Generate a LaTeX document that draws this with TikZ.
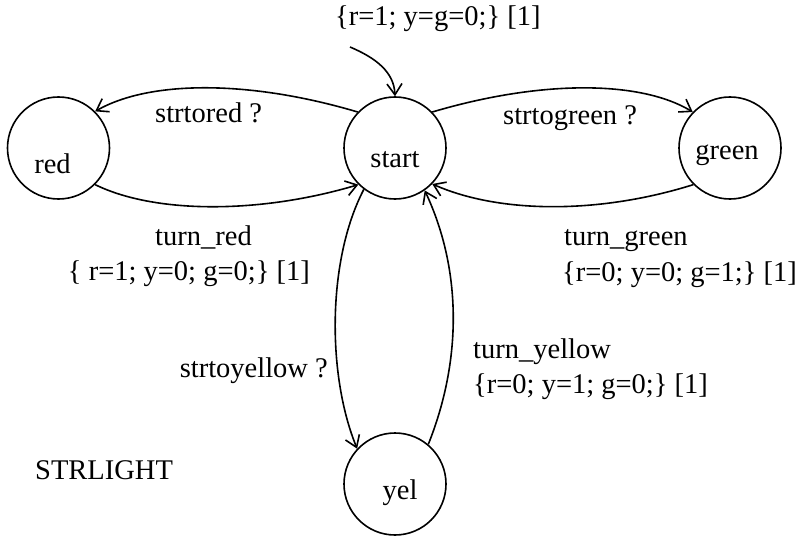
\documentclass[tikz,border=0pt]{standalone}
\usepackage{fontspec}
\setmainfont{Liberation Serif}
\usetikzlibrary{arrows.meta}
\begin{document}
\begin{tikzpicture}[x=1pt,y=-1pt,
  every node/.style={font=\fontsize{28.5}{34}\selectfont},
  state/.style={draw,circle,line width=1.6pt,minimum size=102pt,inner sep=0pt},
  stxt/.style={inner sep=0pt,anchor=base},
  edge/.style={line width=1.6pt,-{Straight Barb[length=11pt,width=15pt,line width=1.6pt]}},
  lbl/.style={inner sep=0pt}]
\useasboundingbox (0,0) rectangle (799,540);
\node[state,label={[stxt,yshift=-12pt]center:start}] (start) at (395,148) {};
\node[state,label={[stxt,xshift=-6pt,yshift=-16pt]center:red}] (red) at (58.5,148) {};
\node[state,label={[stxt,xshift=-3pt,yshift=-7pt]center:green}] (green) at (730,148) {};
\node[state,label={[stxt,xshift=5pt,yshift=-9pt]center:yel}] (yel) at (395,484) {};
\coordinate (init) at (350,47);
\draw[edge] (init) .. controls (376,58) and (394,72) .. (start.90);
\draw[edge] (start.136) .. controls (250,80) and (150,80) .. (red.45);
\draw[edge] (red.315) .. controls (155,214) and (260,214) .. (start.225);
\draw[edge] (start.44) .. controls (540,80) and (640,80) .. (green.136);
\draw[edge] (green.225) .. controls (600,214) and (500,214) .. (start.316);
\draw[edge] (start.233) .. controls (327,260) and (327,375) .. (yel.137);
\draw[edge] (yel.50) .. controls (462,360) and (462,270) .. (start.305);
\node[lbl,anchor=base west] (l0) at (335,26) {\{r=1; y=g=0;\} [1]};
\node[lbl,anchor=base west] (l1) at (155,123) {strtored ?};
\node[lbl,anchor=base west] (l2) at (503,125) {strtogreen ?};
\node[lbl,anchor=base west] (l3) at (155,245) {turn\_red};
\node[lbl,anchor=base east] (l4) at (310,280) {\{ r=1; y=0; g=0;\} [1]};
\node[lbl,anchor=base west] (l5) at (564,245) {turn\_green};
\node[lbl,anchor=base west] (l6) at (562,281) {\{r=0; y=0; g=1;\} [1]};
\node[lbl,anchor=base east] (l7) at (328,377) {strtoyellow ?};
\node[lbl,anchor=base west] (l8) at (473,358) {turn\_yellow};
\node[lbl,anchor=base west] (l9) at (473,393) {\{r=0; y=1; g=0;\} [1]};
\node[lbl,anchor=base west] (l10) at (35,479) {STRLIGHT};
\end{tikzpicture}
\end{document}
